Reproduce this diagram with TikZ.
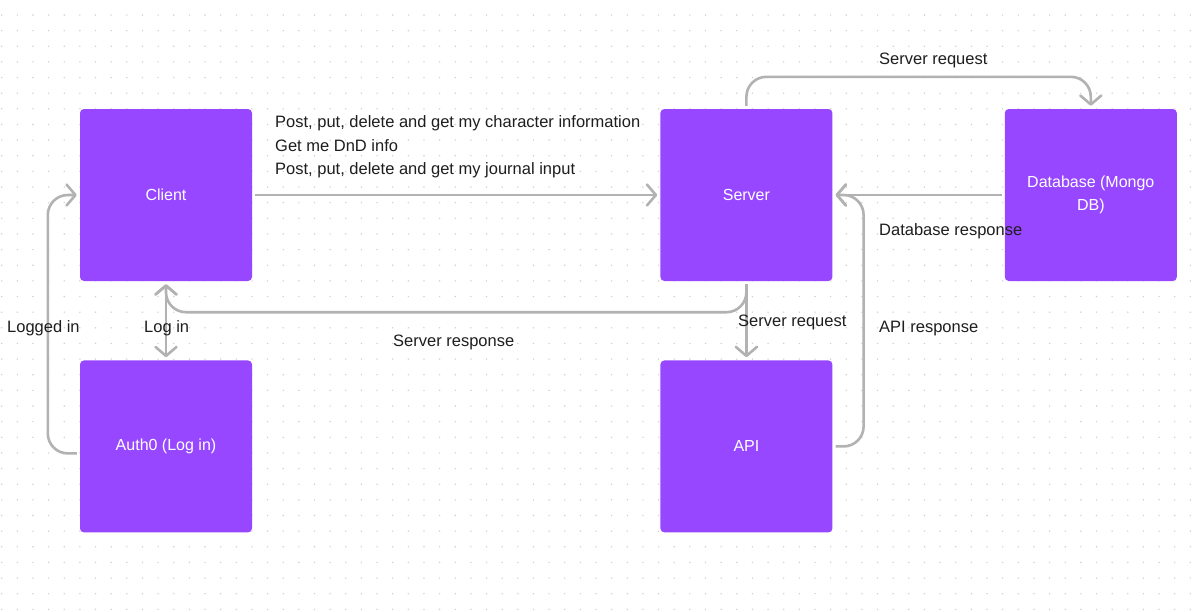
\documentclass[tikz,border=0pt]{standalone}
\usepackage{fontspec}
\setmainfont{Liberation Sans}
\usepackage{tikz}
\usetikzlibrary{arrows.meta, positioning}
\usepackage{xcolor}

\definecolor{boxpurple}{HTML}{9747FF}
\definecolor{linegray}{HTML}{B2B2B2}
\definecolor{labelblack}{HTML}{1E1E1E}
\definecolor{dotgray}{HTML}{D0D0D0}

\begin{document}
\begin{tikzpicture}[
x=1pt, y=-1pt,
>={Straight Barb[length=9pt,width=21pt,round]},
box/.style={fill=boxpurple,
rectangle,
rounded corners=4pt,
minimum width=172pt,
minimum height=172pt,
text=white,
align=center,
font=\fontsize{16}{23.4}\selectfont},
arrow/.style={->, draw=linegray, line width=2.6pt, rounded corners=20pt,
shorten >=3pt, shorten <=3pt},
lbl/.style={anchor=base west, inner sep=0pt, text=labelblack,
font=\fontsize{16.5}{23.4}\selectfont}
]

% background and dot grid
\fill[white] (0,0) rectangle (1201,611);
\useasboundingbox (0,0) rectangle (1201,611);
\foreach \i in {0,...,76} {
\foreach \j in {0,...,38} {
\fill[dotgray] (1.7+15.64*\i, 15+15.64*\j) circle (0.8pt);
}
}

\node[box] (client) at (166,195) {Client};
\node[box, below=79pt of client] (auth) {Auth0 (Log in)};
\node[box, right=408pt of client] (server) {Server};
\node[box, below=79pt of server] (api) {API};
\node[box, right=172pt of server] (database) {Database (Mongo\\DB)};

\draw[arrow] (client) -- (server);
\draw[arrow] (server.north) -- ++(0,-32) -| (database.north);
\draw[arrow] (database) -- (server);
\draw[arrow] (api.east) -- ++(31,0) |- (server.east);
\draw[arrow] (server.south) -- (api.north);
\draw[arrow] (server.south) -- ++(0,31) -| (client.south);
\draw[arrow, <->] (client) -- (auth);
\draw[arrow] ([yshift=-7pt]auth.west) -- ++(-32,0) |- (client.west);

\node[lbl, anchor=north west, align=left] (requests) at (275,115.5)
{Post, put, delete and get my character information\\
Get me DnD info\\
Post, put, delete and get my journal input};
\node[lbl] (dbrequest) at (879,64) {Server request};
\node[lbl] (dbresponse) at (879,235) {Database response};
\node[lbl] (apiresponse) at (879,332.7) {API response};
\node[lbl] (apirequest) at (738,326.7) {Server request};
\node[lbl] (serverresponse) at (393,346) {Server response};
\node[lbl] (login) at (144,332.7) {Log in};
\node[lbl] (loggedin) at (7,332.7) {Logged in};

\end{tikzpicture}
\end{document}
